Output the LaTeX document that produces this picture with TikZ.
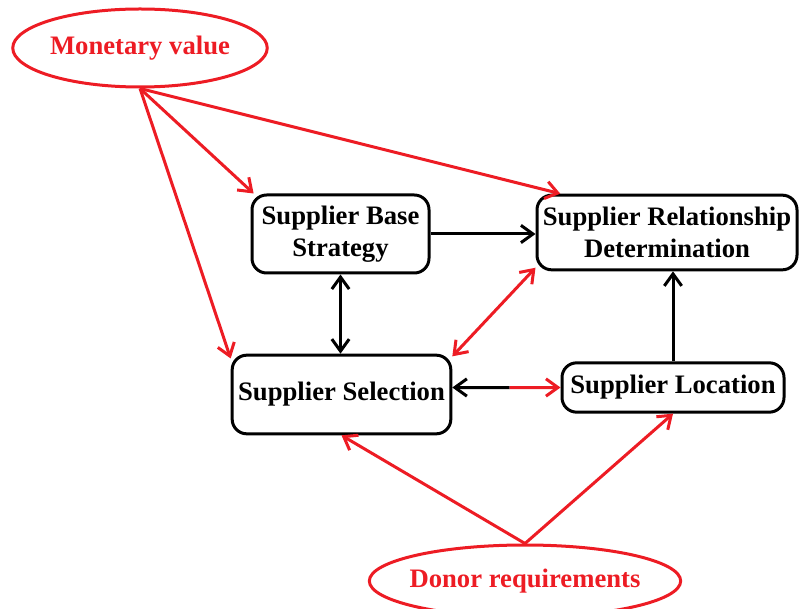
\documentclass[tikz,border=0pt]{standalone}
\usepackage{fontspec}
\setmainfont{Liberation Serif}
\usetikzlibrary{shapes.geometric,arrows.meta,calc}
\definecolor{paintred}{RGB}{237,28,36}

\begin{document}
\begin{tikzpicture}[x=0.75pt,y=-0.75pt,
  box/.style={draw,line width=2.25pt,rounded corners=11pt,align=center,inner sep=0pt,
    font=\fontsize{20}{24}\selectfont\bfseries},
  driver/.style={ellipse,draw=paintred,line width=2.25pt,inner sep=0pt,text=paintred,
    font=\fontsize{20}{24}\selectfont\bfseries},
  link/.style={line width=2.25pt,-{Straight Barb[length=9pt,width=13pt]}},
  twoway/.style={line width=2.25pt,{Straight Barb[length=9pt,width=13pt]}-{Straight Barb[length=9pt,width=13pt]}}]
\useasboundingbox (0,0) rectangle (799,609);
\node[driver,minimum width=190.5pt,minimum height=58.5pt] (mv) at (140,48) {Monetary value};
\node[driver,inner xsep=-4pt,minimum height=54pt] (dr) at (525,581) {Donor requirements};
\node[box,minimum width=132.75pt,minimum height=58.5pt] (base) at (340.5,234) {Supplier Base\\Strategy};
\node[box,minimum width=195pt,minimum height=56pt] (rel) at (667,232.5) {Supplier Relationship\\Determination};
\node[box,minimum width=164pt,minimum height=59pt] (sel) at (341.5,394.5) {Supplier Selection};
\node[box,minimum width=166.5pt,minimum height=37pt] (loc) at (673,387.5) {Supplier Location};
% monetary value feeds three boxes
\draw[link,paintred] (mv.south) -- (base.155);
\draw[link,paintred] (mv.south) -- (rel.160);
\draw[link,paintred] (mv.south) -- (sel.162);
\draw[link] (base.east) -- (base.east -| rel.west);
\draw[twoway] (base.south) -- (base.south |- sel.north);
\draw[twoway,paintred] (rel.195) -- (sel.19);
\coordinate (mid) at ($(loc.west -| sel.east)!0.53!(loc.west)$);
\draw[link] (mid) -- (loc.west -| sel.east);
\draw[link,paintred] (mid) -- (loc.west);
\draw[link] (loc.north) -- (loc.north |- rel.south);
% donor requirements
\draw[link,paintred] (dr.north) -- (sel.south);
\draw[link,paintred] (dr.north) -- (loc.south);
\end{tikzpicture}
\end{document}
